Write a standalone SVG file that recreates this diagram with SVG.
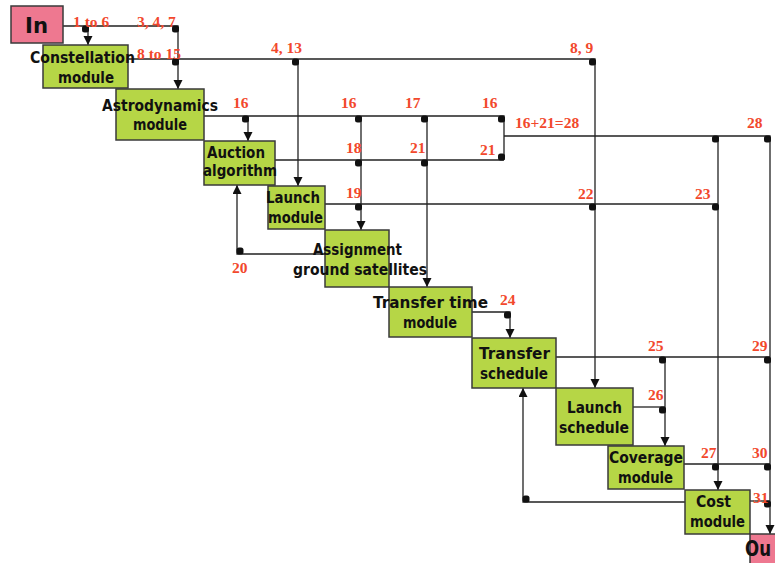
<svg xmlns="http://www.w3.org/2000/svg" xmlns:xlink="http://www.w3.org/1999/xlink" width="775" height="563" viewBox="0 0 775 563">
  <style>
    .mod { fill: #b6d646; stroke: #3a3a3a; stroke-width: 1.5; }
    .io { fill: #ee7890; stroke: #3a3a3a; stroke-width: 1.5; }
    .lbl { font-family: "DejaVu Sans", sans-serif; font-weight: bold; font-size: 15px; fill: #111; text-anchor: middle; }
    .big { font-family: "DejaVu Sans", sans-serif; font-weight: bold; font-size: 21px; fill: #111; }
    .wire { fill: none; stroke: #222; stroke-width: 1.3; }
    .arr { marker-end: url(#head); }
    .num { font-family: "Liberation Serif", serif; font-weight: bold; font-size: 15.5px; fill: #f2482c; }
  </style>
  <defs>
    <marker id="head" markerUnits="userSpaceOnUse" markerWidth="10" markerHeight="10" refX="9" refY="4.5" orient="auto">
      <path d="M0,0 L9,4.5 L0,9 z" fill="#111"/>
    </marker>
    <rect id="dot" width="7" height="7" rx="2.5" fill="#111"/>
  </defs>

  <rect width="775" height="563" fill="#fff"/>

  <!-- connectors -->
  <g id="connectors">
    <!-- inputs from In -->
    <path class="wire arr" d="M63,26 H178 V89"/>
    <path class="wire arr" d="M88,26 V45"/>
    <!-- Constellation outputs -->
    <path class="wire arr" d="M128,59 H595 V388"/>
    <path class="wire arr" d="M298,59 V186"/>
    <!-- Astrodynamics outputs -->
    <path class="wire" d="M204,116 H504 V160"/>
    <path class="wire arr" d="M248,116 V141"/>
    <path class="wire arr" d="M361,116 V230"/>
    <path class="wire arr" d="M427,116 V287"/>
    <!-- Auction outputs -->
    <path class="wire" d="M275,160 H504"/>
    <!-- merged 16+21 to Cost and Out -->
    <path class="wire arr" d="M504,136 H770 V534"/>
    <path class="wire arr" d="M718,136 V490"/>
    <!-- Launch module outputs -->
    <path class="wire" d="M325,204 H718"/>
    <!-- Assignment back to Auction -->
    <path class="wire arr" d="M325,254 H237 V185"/>
    <!-- Transfer time to Transfer schedule -->
    <path class="wire arr" d="M472,312 H510 V338"/>
    <!-- Transfer schedule outputs -->
    <path class="wire" d="M556,357 H770"/>
    <path class="wire arr" d="M665,357 V446"/>
    <!-- Launch schedule output -->
    <path class="wire" d="M633,407 H665"/>
    <!-- Coverage outputs -->
    <path class="wire" d="M684,464 H770"/>
    <!-- Cost outputs -->
    <path class="wire" d="M750,501 H770"/>
    <path class="wire arr" d="M685,502 H523 V388"/>

    <!-- junction dots -->
    <use xlink:href="#dot" x="82" y="25.5"/>
    <use xlink:href="#dot" x="172" y="25.5"/>
    <use xlink:href="#dot" x="172" y="58.5"/>
    <use xlink:href="#dot" x="292" y="58.5"/>
    <use xlink:href="#dot" x="589" y="58.5"/>
    <use xlink:href="#dot" x="242" y="115.5"/>
    <use xlink:href="#dot" x="355" y="115.5"/>
    <use xlink:href="#dot" x="421" y="115.5"/>
    <use xlink:href="#dot" x="498" y="115.5"/>
    <use xlink:href="#dot" x="355" y="159.5"/>
    <use xlink:href="#dot" x="421" y="159.5"/>
    <use xlink:href="#dot" x="498" y="153.5"/>
    <use xlink:href="#dot" x="712" y="135.5"/>
    <use xlink:href="#dot" x="764" y="135.5"/>
    <use xlink:href="#dot" x="355" y="203.5"/>
    <use xlink:href="#dot" x="589" y="203.5"/>
    <use xlink:href="#dot" x="712" y="203.5"/>
    <use xlink:href="#dot" x="236.5" y="247.5"/>
    <use xlink:href="#dot" x="504" y="311.5"/>
    <use xlink:href="#dot" x="659" y="356.5"/>
    <use xlink:href="#dot" x="764" y="356.5"/>
    <use xlink:href="#dot" x="659" y="406.5"/>
    <use xlink:href="#dot" x="712" y="463.5"/>
    <use xlink:href="#dot" x="764" y="463.5"/>
    <use xlink:href="#dot" x="764" y="500.5"/>
    <use xlink:href="#dot" x="522.5" y="495.5"/>

    <!-- data item numbers -->
    <text class="num" x="73" y="27">1 to 6</text>
    <text class="num" x="137" y="27">3, 4, 7</text>
    <text class="num" x="137" y="59">8 to 15</text>
    <text class="num" x="271" y="53">4, 13</text>
    <text class="num" x="570" y="53">8, 9</text>
    <text class="num" x="233" y="108">16</text>
    <text class="num" x="341" y="108">16</text>
    <text class="num" x="405" y="108">17</text>
    <text class="num" x="482" y="108">16</text>
    <text class="num" x="346" y="153">18</text>
    <text class="num" x="410" y="153">21</text>
    <text class="num" x="480" y="155">21</text>
    <text class="num" x="515" y="128">16+21=28</text>
    <text class="num" x="747" y="128">28</text>
    <text class="num" x="346" y="198">19</text>
    <text class="num" x="578" y="199">22</text>
    <text class="num" x="695" y="199">23</text>
    <text class="num" x="232" y="273">20</text>
    <text class="num" x="500" y="305">24</text>
    <text class="num" x="648" y="351">25</text>
    <text class="num" x="752" y="351">29</text>
    <text class="num" x="648" y="400">26</text>
    <text class="num" x="701" y="458">27</text>
    <text class="num" x="752" y="458">30</text>
    <text class="num" x="753" y="503">31</text>
  </g>

  <!-- nodes -->
  <g id="in">
    <rect class="io" x="11" y="6" width="52" height="37"/>
    <text class="big" x="25" y="33" textLength="23" lengthAdjust="spacingAndGlyphs">In</text>
  </g>
  <g id="constellation">
    <rect class="mod" x="43" y="45" width="85" height="43"/>
    <text class="lbl" x="82.5" y="63" textLength="105" lengthAdjust="spacingAndGlyphs">Constellation</text>
    <text class="lbl" x="86" y="83" textLength="56" lengthAdjust="spacingAndGlyphs">module</text>
  </g>
  <g id="astrodynamics">
    <rect class="mod" x="116" y="89" width="88" height="51"/>
    <text class="lbl" x="160" y="111" textLength="116" lengthAdjust="spacingAndGlyphs">Astrodynamics</text>
    <text class="lbl" x="160" y="130" textLength="54" lengthAdjust="spacingAndGlyphs">module</text>
  </g>
  <g id="auction">
    <rect class="mod" x="204" y="141" width="71" height="44"/>
    <text class="lbl" x="236" y="158" textLength="58" lengthAdjust="spacingAndGlyphs">Auction</text>
    <text class="lbl" x="240" y="176" textLength="74" lengthAdjust="spacingAndGlyphs">algorithm</text>
  </g>
  <g id="launch-module">
    <rect class="mod" x="268" y="186" width="57" height="43"/>
    <text class="lbl" x="293" y="203" textLength="54" lengthAdjust="spacingAndGlyphs">Launch</text>
    <text class="lbl" x="295.5" y="223" textLength="55" lengthAdjust="spacingAndGlyphs">module</text>
  </g>
  <g id="assignment">
    <rect class="mod" x="325" y="230" width="64" height="57"/>
    <text class="lbl" x="357.5" y="255" textLength="89" lengthAdjust="spacingAndGlyphs">Assignment</text>
    <text class="lbl" x="360" y="275" textLength="134" lengthAdjust="spacingAndGlyphs">ground satellites</text>
  </g>
  <g id="transfer-time">
    <rect class="mod" x="389" y="287" width="83" height="50"/>
    <text class="lbl" x="430.5" y="308" textLength="115" lengthAdjust="spacingAndGlyphs">Transfer time</text>
    <text class="lbl" x="430" y="328" textLength="54" lengthAdjust="spacingAndGlyphs">module</text>
  </g>
  <g id="transfer-schedule">
    <rect class="mod" x="472" y="338" width="84" height="50"/>
    <text class="lbl" x="514.5" y="359" textLength="71" lengthAdjust="spacingAndGlyphs">Transfer</text>
    <text class="lbl" x="514" y="379" textLength="68" lengthAdjust="spacingAndGlyphs">schedule</text>
  </g>
  <g id="launch-schedule">
    <rect class="mod" x="556" y="388" width="77" height="57"/>
    <text class="lbl" x="594.5" y="413" textLength="55" lengthAdjust="spacingAndGlyphs">Launch</text>
    <text class="lbl" x="594" y="433" textLength="70" lengthAdjust="spacingAndGlyphs">schedule</text>
  </g>
  <g id="coverage">
    <rect class="mod" x="608" y="446" width="76" height="43"/>
    <text class="lbl" x="646" y="463" textLength="74" lengthAdjust="spacingAndGlyphs">Coverage</text>
    <text class="lbl" x="645.5" y="483" textLength="55" lengthAdjust="spacingAndGlyphs">module</text>
  </g>
  <g id="cost">
    <rect class="mod" x="685" y="490" width="65" height="44"/>
    <text class="lbl" x="713.5" y="507" textLength="35" lengthAdjust="spacingAndGlyphs">Cost</text>
    <text class="lbl" x="717.5" y="527" textLength="55" lengthAdjust="spacingAndGlyphs">module</text>
  </g>
  <g id="out">
    <rect class="io" x="750" y="534" width="40" height="36"/>
    <text class="big" x="745" y="556" font-size="20" textLength="26" lengthAdjust="spacingAndGlyphs">Ou</text>
  </g>
</svg>
